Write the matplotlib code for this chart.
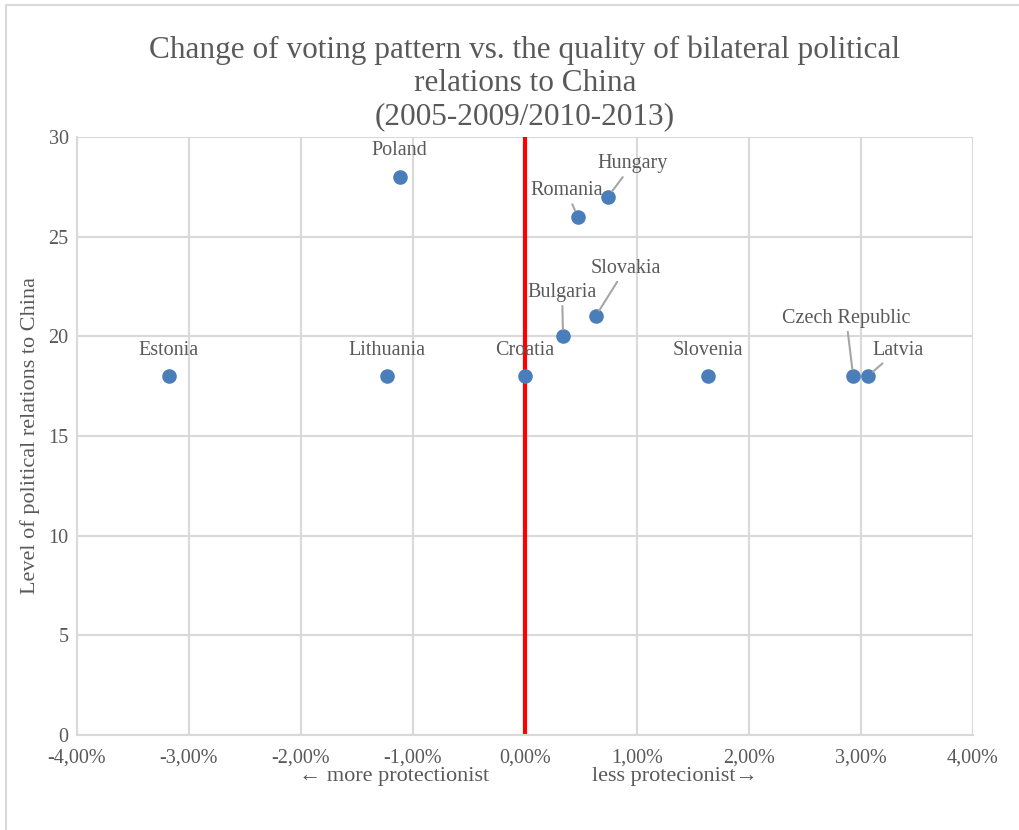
import matplotlib
matplotlib.use("Agg")
import matplotlib.pyplot as plt
from matplotlib.patches import Rectangle
from matplotlib.ticker import FuncFormatter

# change of voting pattern (%) and level of political relations
countries = ["Estonia", "Lithuania", "Poland", "Croatia", "Bulgaria", "Romania",
             "Slovakia", "Hungary", "Slovenia", "Czech Republic", "Latvia"]
voting_change = [-3.18, -1.23, -1.12, 0.0, 0.34, 0.47, 0.63, 0.74, 1.63, 2.93, 3.06]
relations = [18, 18, 28, 18, 20, 26, 21, 27, 18, 18, 18]

# label offsets in pixels (dx, dy) and whether a leader line is drawn
label_offsets = {
    "Estonia": (0, 26), "Lithuania": (0, 26), "Poland": (0, 26), "Croatia": (0, 26),
    "Bulgaria": (-1, 44), "Romania": (-11, 26), "Slovakia": (30, 48),
    "Hungary": (25, 33), "Slovenia": (0, 26), "Czech Republic": (-7, 58),
    "Latvia": (30, 26),
}
leaders = {"Bulgaria", "Romania", "Slovakia", "Hungary", "Czech Republic", "Latvia"}

GRAY = "#595959"
GRID = "#D9D9D9"
FONT = "Liberation Serif"

fig = plt.figure(figsize=(10.19, 8.30), dpi=100)
ax = fig.add_axes([77 / 1019, 1 - 735 / 830, 896 / 1019, 598 / 830])

# chart frame
fig.patches.append(Rectangle((6 / 1019, -0.1), 1.2, (830 - 5) / 830 + 0.1,
                             transform=fig.transFigure, fill=False,
                             edgecolor=GRID, linewidth=1.5))

ax.set_xlim(-4, 4)
ax.set_ylim(0, 30)
ax.set_xticks(range(-4, 5))
ax.set_yticks(range(0, 31, 5))
ax.xaxis.set_major_formatter(FuncFormatter(lambda v, p: ("%.2f%%" % v).replace(".", ",")))
ax.grid(True, color=GRID, linewidth=1.5)
ax.set_axisbelow(True)
for side in ["top", "right"]:
    ax.spines[side].set_visible(False)
for side in ["left", "bottom"]:
    ax.spines[side].set_color(GRID)
    ax.spines[side].set_linewidth(1.5)
ax.tick_params(length=0, labelcolor=GRAY, labelsize=14.5)
ax.tick_params(axis="x", pad=10)
ax.tick_params(axis="y", pad=6)
for lab in ax.get_xticklabels() + ax.get_yticklabels():
    lab.set_fontfamily(FONT)

# zero line
ax.axvline(0, color="#FF0000", linewidth=3, zorder=2)

ax.scatter(voting_change, relations, s=90, color="#4A7EBB", zorder=3)

for name, xv, yv in zip(countries, voting_change, relations):
    dx, dy = label_offsets[name]
    arrow = None
    if name in leaders:
        arrow = dict(arrowstyle="-", color="#A6A6A6", linewidth=1.5, shrinkA=1, shrinkB=5)
    ax.annotate(name, (xv, yv), xytext=(dx, dy), textcoords="offset pixels",
                ha="center", va="center", fontsize=14.5, color=GRAY, fontfamily=FONT,
                arrowprops=arrow, zorder=4)

ax.set_title("Change of voting pattern vs. the quality of bilateral political\n"
             "relations to China\n(2005-2009/2010-2013)",
             fontsize=22.5, color=GRAY, fontfamily=FONT, linespacing=1.2, pad=9)
ax.set_ylabel("Level of political relations to China", fontsize=16, color=GRAY,
              fontfamily=FONT, labelpad=6)

ax.text(0.46, -0.07, "\u2190 more protectionist", transform=ax.transAxes,
        ha="right", va="center", fontsize=16, color=GRAY, fontfamily=[FONT, "DejaVu Serif"])
ax.text(0.575, -0.07, "less protecionist\u2192", transform=ax.transAxes,
        ha="left", va="center", fontsize=16, color=GRAY, fontfamily=[FONT, "DejaVu Serif"])

fig.savefig("out.png", dpi=100)
